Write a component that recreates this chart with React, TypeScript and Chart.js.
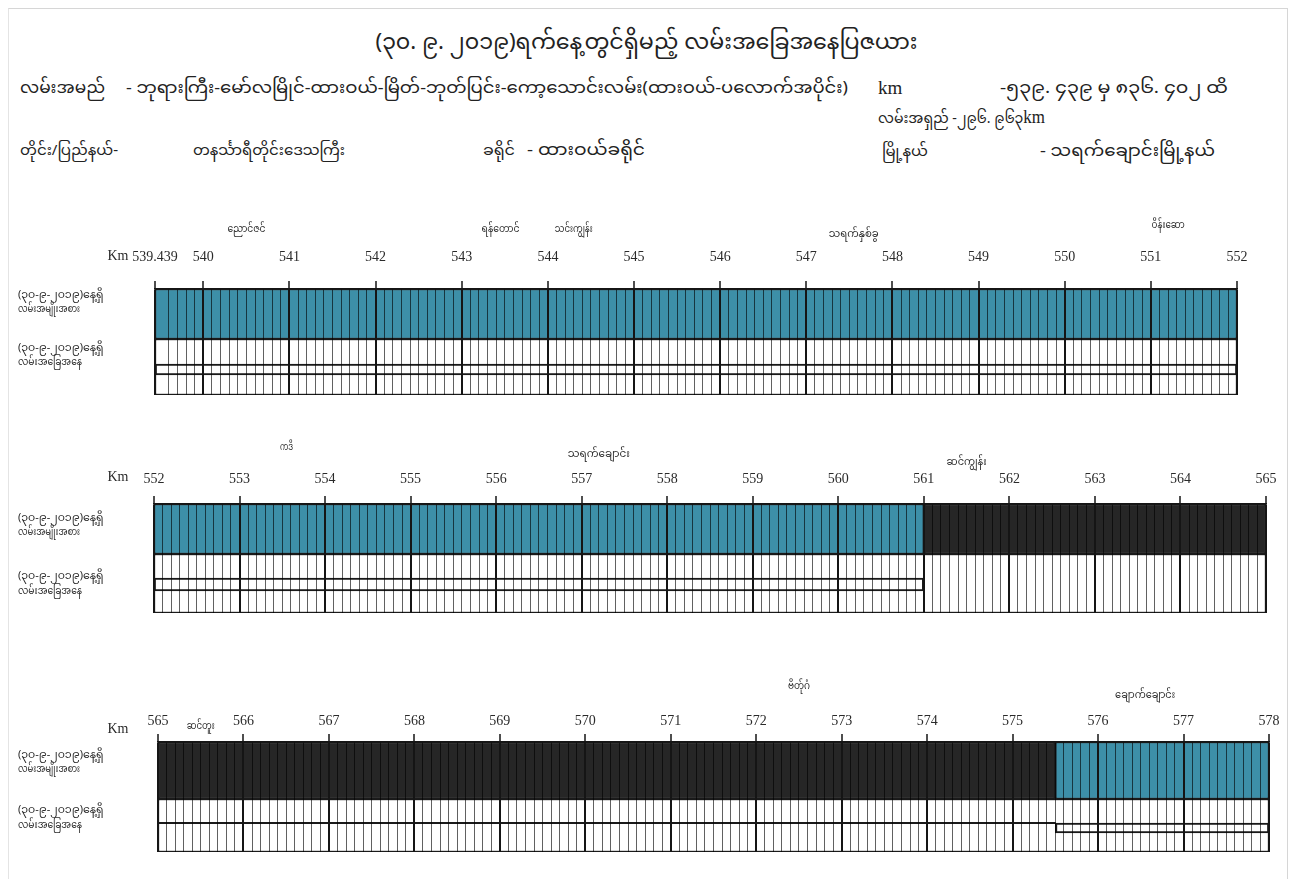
import React, { useEffect, useLayoutEffect, useRef } from "react";
import { Chart, registerables } from "chart.js";

Chart.register(...registerables);

// ---------- text ----------
const TITLE = "(၃၀. ၉. ၂၀၁၉)ရက်နေ့တွင်ရှိမည့် လမ်းအခြေအနေပြဇယား";
const ROAD_LABEL = "လမ်းအမည်";
const ROAD_NAME = "- ဘုရားကြီး-မော်လမြိုင်-ထားဝယ်-မြိတ်-ဘုတ်ပြင်း-ကော့သောင်းလမ်း(ထားဝယ်-ပလောက်အပိုင်း)";
const KM_LABEL = "km";
const KM_RANGE = "-၅၃၉. ၄၃၉ မှ ၈၃၆. ၄၀၂ ထိ";
const LENGTH_LABEL = "လမ်းအရှည် -၂၉၆. ၉၆၃";
const REGION_LABEL = "တိုင်း/ပြည်နယ်-";
const REGION_NAME = "တနင်္သာရီတိုင်းဒေသကြီး";
const DISTRICT_LABEL = "ခရိုင်";
const DISTRICT_NAME = "- ထားဝယ်ခရိုင်";
const TOWNSHIP_LABEL = "မြို့နယ်";
const TOWNSHIP_NAME = "- သရက်ချောင်းမြို့နယ်";
const ROW_LABELS = [
  ["(၃၀-၉-၂၀၁၉)နေ့ရှိ", "လမ်းအမျိုးအစား"],
  ["(၃၀-၉-၂၀၁၉)နေ့ရှိ", "လမ်းအခြေအနေ"],
];
const AXIS_UNIT = "Km";

// ---------- data ----------
const STRIP_START = [539.439, 552, 565];
const STRIP_END = [552, 565, 578];

// road type sections (km from / to, kind)
const SURFACE_FROM = [539.439, 561, 575.5];
const SURFACE_TO = [561, 575.5, 578];
const SURFACE_KIND = ["A", "B", "A"];

// condition lane boxes
const BOX_FROM = [539.439, 575.5];
const BOX_TO = [561, 578];
// condition lane divider
const DIVIDER_FROM = [565];
const DIVIDER_TO = [575.5];

// place names along the road
const PLACE_NAMES = [
  "ညောင်ဇင်",
  "ရန်တောင်",
  "သင်းကျွန်း",
  "သရက်နှစ်ခွ",
  "ဝိန်းဆော",
  "ကဒိ",
  "သရက်ချောင်း",
  "ဆင်ကျွန်း",
  "ဆင်တူး",
  "ဗိတ်ုဂံ",
  "ချောက်ချောင်း",
];
const PLACE_KM = [540.5, 543.45, 544.3, 547.55, 551.2, 553.55, 557.2, 561.5, 565.5, 572.5, 576.55];

// ---------- layout / style (page pixels) ----------
const PLACE_Y = [231, 231, 231, 236, 227, 449, 456, 464, 728, 688, 697];
const PLACE_W = [38, 38, 38, 50, 33, 13, 62, 40, 28, 22, 60];
const STRIP_LAYOUT = [
  { canvasTop: 200, top: 289, barBottom: 339, boxTop: 364, boxBottom: 375, bottom: 395, left: 155, right: 1237, pad: 15, kmY: 256, rowY: [[297, 311], [350, 364]] },
  { canvasTop: 430, top: 504, barBottom: 554, boxTop: 578, boxBottom: 591, bottom: 613, left: 154, right: 1266, pad: 8, kmY: 477, rowY: [[520, 534], [578, 593]] },
  { canvasTop: 670, top: 742, barBottom: 799, boxTop: 823, boxBottom: 833, bottom: 852, left: 158, right: 1269, pad: 4, kmY: 729, rowY: [[757, 771], [812, 827]] },
];
const ROW_W = [[87, 62], [87, 64]];
const CANVAS_H = 200;
const AXIS_H = 40;
const PAGE_W = 1292;
const KIND_COLOR: Record<string, string> = { A: "#3d8fa8", B: "#262626" };
const MM_FONT = "'Noto Sans Myanmar', 'Padauk', 'Myanmar Text', 'Noto Sans', sans-serif";
const SERIF = "'Liberation Serif', 'DejaVu Serif', serif";

function StripChart({ index }: { index: number }) {
  const ref = useRef<HTMLCanvasElement | null>(null);
  useEffect(() => {
    const L = STRIP_LAYOUT[index];
    const start = STRIP_START[index];
    const end = STRIP_END[index];
    const H = L.bottom - L.top;
    const clip = (a: number, b: number) => [Math.max(a, start), Math.min(b, end)];
    const near = (a: number, b: number) => Math.abs(a - b) < 1e-6;
    const isMajor = (v: number) => near(v, Math.round(v)) || near(v, start) || near(v, end);

    const surface: any[] = [];
    SURFACE_FROM.forEach((f, i) => {
      const [a, b] = clip(f, SURFACE_TO[i]);
      if (b > a) surface.push({ x: [a, b], y: (L.barBottom - L.top) / 2, kind: SURFACE_KIND[i] });
    });
    const boxes: any[] = [];
    BOX_FROM.forEach((f, i) => {
      const [a, b] = clip(f, BOX_TO[i]);
      if (b > a) boxes.push({ x: [a, b], y: (L.boxTop + L.boxBottom) / 2 - L.top });
    });
    const dividers: any[] = [];
    DIVIDER_FROM.forEach((f, i) => {
      const [a, b] = clip(f, DIVIDER_TO[i]);
      if (b > a) dividers.push({ x: [a, b], y: L.boxTop - L.top });
    });

    const textPlugin = {
      id: "stripText",
      afterDraw(chart: any) {
        const c = chart.ctx;
        const xs = chart.scales.x;
        c.save();
        c.fillStyle = "#2a2a2a";
        c.textBaseline = "middle";
        c.textAlign = "center";
        c.font = `14px ${SERIF}`;
        c.fillText(AXIS_UNIT, 118, L.kmY - L.canvasTop);
        c.font = `11px ${MM_FONT}`;
        PLACE_NAMES.forEach((n, i) => {
          const km = PLACE_KM[i];
          if (km >= start && km < end) c.fillText(n, xs.getPixelForValue(km), PLACE_Y[i] - L.canvasTop, PLACE_W[i]);
        });
        c.textAlign = "left";
        c.font = `11px ${MM_FONT}`;
        ROW_LABELS.forEach((lines, r) =>
          lines.forEach((t, j) => c.fillText(t, 18, L.rowY[r][j] - L.canvasTop, ROW_W[r][j]))
        );
        c.restore();
      },
    };

    const chart = new Chart(ref.current as HTMLCanvasElement, {
      type: "bar",
      data: {
        datasets: [
          {
            label: "frame",
            data: [{ x: [start, end], y: (L.barBottom + L.bottom) / 2 - L.top }],
            backgroundColor: "#ffffff",
            borderColor: "#1a1a1a",
            borderWidth: 1.5,
            borderSkipped: false,
            barThickness: L.bottom - L.barBottom,
            grouped: false,
            order: 3,
          },
          {
            label: "surface",
            data: surface,
            backgroundColor: (ctx: any) => KIND_COLOR[ctx.raw?.kind] || "#000",
            borderColor: "#1a1a1a",
            borderWidth: 1.5,
            borderSkipped: false,
            barThickness: L.barBottom - L.top,
            grouped: false,
            order: 2,
          },
          {
            label: "box",
            data: boxes,
            backgroundColor: "rgba(255,255,255,0)",
            borderColor: "#1a1a1a",
            borderWidth: 1.5,
            borderSkipped: false,
            barThickness: L.boxBottom - L.boxTop,
            grouped: false,
            order: 1,
          },
          {
            label: "divider",
            data: dividers,
            backgroundColor: "#1a1a1a",
            borderWidth: 0,
            barThickness: 1.5,
            grouped: false,
            order: 0,
          },
        ] as any,
      },
      options: {
        indexAxis: "y",
        animation: false,
        responsive: false,
        maintainAspectRatio: false,
        devicePixelRatio: 1,
        events: [],
        layout: {
          padding: {
            top: L.top - L.canvasTop - AXIS_H,
            bottom: L.canvasTop + CANVAS_H - L.bottom,
            left: L.left,
            right: PAGE_W - L.right,
          },
        },
        plugins: { legend: { display: false }, tooltip: { enabled: false }, title: { display: false } },
        scales: {
          x: {
            type: "linear",
            position: "top",
            min: start,
            max: end,
            offset: false,
            afterFit: (s: any) => {
              s.height = AXIS_H;
            },
            ticks: {
              stepSize: 0.1,
              autoSkip: false,
              maxRotation: 0,
              minRotation: 0,
              padding: L.pad,
              color: "#2a2a2a",
              font: { family: SERIF, size: 14 },
              callback: (v: any) => {
                const n = Number(v);
                if (near(n, start) && !near(start, Math.round(start))) return String(start);
                if (near(n, Math.round(n))) return String(Math.round(n));
                return "";
              },
            },
            grid: {
              z: 1,
              offset: false,
              color: (ctx: any) => (ctx.tick && isMajor(ctx.tick.value) ? "#151515" : "rgba(0,0,0,0.62)"),
              lineWidth: (ctx: any) => (ctx.tick && isMajor(ctx.tick.value) ? 2 : 1),
              tickLength: 8,
              tickColor: (ctx: any) => (ctx.tick && isMajor(ctx.tick.value) ? "#151515" : "rgba(0,0,0,0)"),
              tickWidth: 1.5,
            },
            border: { display: true, color: "#151515", width: 1.5, z: 1 },
          },
          y: {
            type: "linear",
            display: false,
            offset: false,
            min: 0,
            max: H,
            reverse: true,
            grid: { offset: false },
          },
        },
      } as any,
      plugins: [textPlugin],
    });
    return () => chart.destroy();
  }, [index]);

  const L = STRIP_LAYOUT[index];
  return (
    <canvas
      ref={ref}
      width={PAGE_W}
      height={CANVAS_H}
      style={{ position: "absolute", left: 0, top: L.canvasTop, width: PAGE_W, height: CANVAS_H }}
    />
  );
}

function T({ x, y, w, size = 15, children, center = false, font = MM_FONT }: any) {
  const ref = useRef<HTMLSpanElement | null>(null);
  useLayoutEffect(() => {
    const el = ref.current;
    if (!el || !w) return;
    el.style.transform = "none";
    const actual = el.getBoundingClientRect().width;
    if (actual > 0) el.style.transform = `scaleX(${w / actual})`;
  }, [w, children]);
  return (
    <div
      style={{
        position: "absolute",
        left: center ? 0 : x,
        width: center ? PAGE_W : undefined,
        textAlign: center ? "center" : "left",
        top: y,
        transform: "translateY(-50%)",
        fontSize: size,
        fontFamily: font,
        whiteSpace: "nowrap",
        lineHeight: 1.2,
        color: "#222",
      }}
    >
      <span
        ref={ref}
        style={{ display: "inline-block", transformOrigin: center ? "50% 50%" : "0 50%" }}
      >
        {children}
      </span>
    </div>
  );
}

export default function App() {
  return (
    <div
      style={{
        position: "absolute",
        left: 0,
        top: 0,
        width: PAGE_W,
        height: 879,
        background: "#ffffff",
        overflow: "hidden",
      }}
    >
      <div
        style={{
          position: "absolute",
          left: 8,
          top: 8,
          width: 1278,
          height: 900,
          borderTop: "1px solid #d6d6d6",
          borderLeft: "1px solid #e4e4e4",
          borderRight: "1px solid #d6d6d6",
        }}
      />
      <T center y={45} size={21} w={542}>{TITLE}</T>
      <T x={20} y={90} size={16} w={85}>{ROAD_LABEL}</T>
      <T x={126} y={90} size={16} w={722}>{ROAD_NAME}</T>
      <T x={878} y={88} size={19} font={SERIF}>{KM_LABEL}</T>
      <T x={1000} y={90} size={16} w={228}>{KM_RANGE}</T>
      <T x={878} y={118} size={15} w={167}>
        {LENGTH_LABEL}
        <span style={{ fontFamily: SERIF, fontSize: 18 }}>km</span>
      </T>
      <T x={20} y={152} size={15} w={98}>{REGION_LABEL}</T>
      <T x={193} y={152} size={15} w={152}>{REGION_NAME}</T>
      <T x={483} y={152} size={15} w={32}>{DISTRICT_LABEL}</T>
      <T x={527} y={152} size={16} w={118}>{DISTRICT_NAME}</T>
      <T x={882} y={153} size={15} w={46}>{TOWNSHIP_LABEL}</T>
      <T x={1040} y={153} size={16} w={175}>{TOWNSHIP_NAME}</T>
      {STRIP_START.map((_, i) => (
        <StripChart key={i} index={i} />
      ))}
    </div>
  );
}
